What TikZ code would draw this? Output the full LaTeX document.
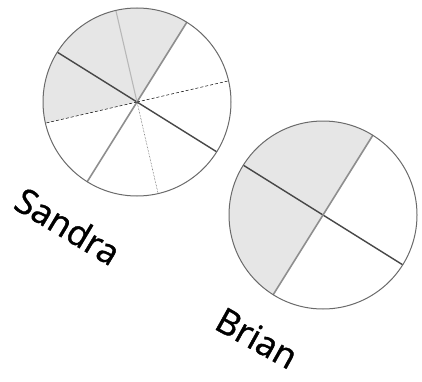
\documentclass[tikz,border=0pt]{standalone}
\usepackage{fontspec}
\newfontfamily\namefont{Open Sans}[FakeBold=1.2]
\usepackage{tikz}
\usetikzlibrary{
  calc,
  positioning
}
\definecolor{pcShade}{HTML}{E6E6E6}
\definecolor{pcRim}{HTML}{6A6A6A}
\definecolor{pcDark}{HTML}{474747}
\definecolor{pcMid}{HTML}{8E8E8E}
\definecolor{pcLight}{HTML}{B8B8B8}
\tikzset{
  rim/.style={draw=pcRim, line width=1pt},
  shade/.style={fill=pcShade},
  darkcut/.style={draw=pcDark, line width=1.4pt},
  midcut/.style={draw=pcMid, line width=1.6pt},
  lightcut/.style={draw=pcLight, line width=1.1pt},
  dashcut/.style={draw=black, line width=0.5pt, densely dashed},
  dotcut/.style={draw=black!80, line width=0.5pt, densely dotted},
  namelabel/.style={font=\namefont\fontsize{35}{40}\selectfont, inner sep=0pt}
}

\begin{document}
\begin{tikzpicture}[x=1pt, y=1pt]
  \useasboundingbox (0,0) rectangle (422,381);
  \coordinate (sandra) at (137,279);
  \coordinate (brian) at (323,166);
  % Sandra: three of eight parts shaded
  \fill[shade] (sandra) -- +(58:94) arc[start angle=58, end angle=193, radius=94] -- cycle;
  \foreach \ang/\cut in {148/darkcut, -32/darkcut, 58/midcut, 238/midcut,
    103/lightcut, 13/dashcut, 193/dashcut, 283/dotcut}{
    \draw[\cut] (sandra) -- +(\ang:94);
  }
  \draw[rim] (sandra) circle[radius=94];
  % Brian: two of four parts shaded
  \fill[shade] (brian) -- +(58:94) arc[start angle=58, end angle=238, radius=94] -- cycle;
  \foreach \ang/\cut in {148/darkcut, -32/darkcut, 58/midcut, 238/midcut}{
    \draw[\cut] (brian) -- +(\ang:94);
  }
  \draw[rim] (brian) circle[radius=94];
  \node[namelabel, rotate=-31] (sandraname) at (68,155) {Sandra};
  \node[namelabel, rotate=-29] (brianname) at (257,43) {Brian};
\end{tikzpicture}
\end{document}
